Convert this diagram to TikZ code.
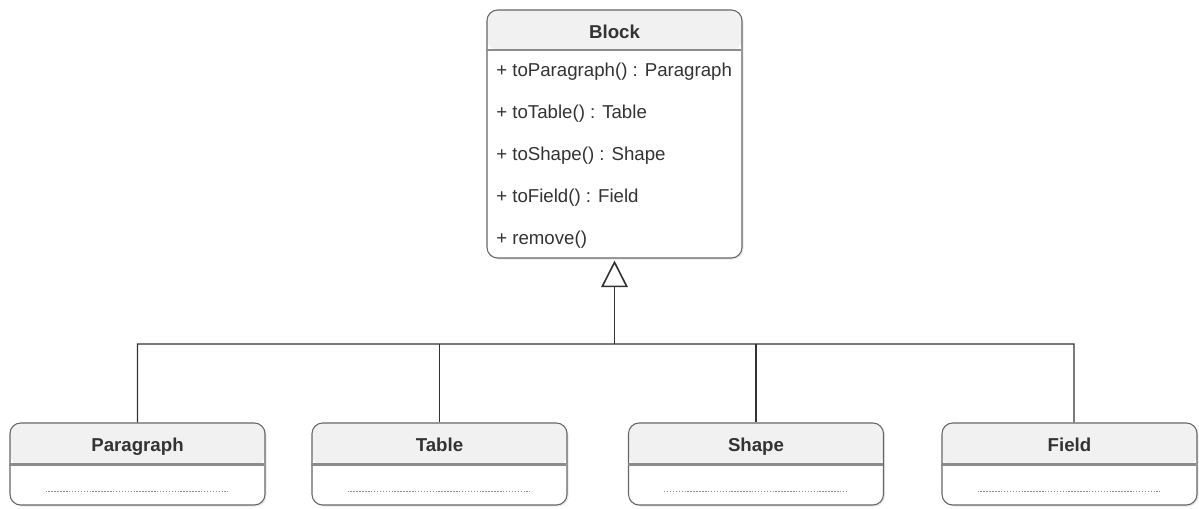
\documentclass[tikz,border=0pt]{standalone}
\usepackage{fontspec}
\setmainfont{Liberation Sans}
\usetikzlibrary{positioning, arrows.meta, shadows}

\definecolor{hdrgray}{HTML}{F1F1F1}
\definecolor{linegray}{HTML}{666666}
\definecolor{txtgray}{HTML}{333333}

\begin{document}
\begin{tikzpicture}
[
    x=0.75pt, y=-0.75pt, font=\fontsize{14}{17}\selectfont, text=txtgray,
    % Class boxes are named after the class: block, para, table, shape, field
    % One unit is one pixel of the reference, y grows downwards
]

\useasboundingbox (0,0) rectangle (1199,509);

%=================================== Start ===================================
\tikzstyle{cls}  = [
    draw=linegray, line width=0.8pt, fill=white, rounded corners=8pt,
    minimum width=191.25pt, inner sep=0pt,
    drop shadow={shadow xshift=1.2pt, shadow yshift=-1.2pt, fill=black!18},
    path picture={
        \fill[hdrgray] (path picture bounding box.north west)
            rectangle ([yshift=-#1]path picture bounding box.north east);
    }
]
\tikzstyle{hdrsep}  = [draw=black!45, line width=1.6pt]
\tikzstyle{clsname} = [anchor=base, inner sep=0pt, font=\fontsize{14}{17}\selectfont\bfseries]
\tikzstyle{meth}    = [anchor=base west, inner sep=0pt]
\tikzstyle{dots}    = [draw=black!45, line width=0.5pt, dash pattern=on 1.1pt off 1.1pt]
\tikzstyle{wire}    = [draw=txtgray, line width=0.9pt]

% Parent class
\node[cls=30pt, minimum height=186pt] (block) at (614.5,134) {};
\node[clsname] (block-name) at ([yshift=-21.75pt]block.north) {Block};
\draw[hdrsep] (block.north west) ++(0,40.5) -- ++(255,0);
\foreach \y / \txt in {77/{+ toParagraph() : Paragraph},
                       119/{+ toTable() : Table},
                       161/{+ toShape() : Shape},
                       203/{+ toField() : Field},
                       245/{+ remove()}}
    \node[meth] (block-\y) at (496,\y) {\txt};

% Sub classes
\foreach \x / \n / \txt in {137.5/para/Paragraph, 439.5/table/Table,
                            756/shape/Shape, 1069.5/field/Field}
{
    \node[cls=31.5pt, minimum height=61.5pt] (\n) at (\x,464) {};
    \node[clsname] (\n-name) at ([yshift=-21.75pt]\n.north) {\txt};
    \draw[hdrsep] (\n.north west) ++(0,42) -- ++(255,0);
    \draw[dots] ([xshift=-69pt, yshift=-51.5pt]\n.north)
             -- ([xshift=68pt, yshift=-51.5pt]\n.north);
}

% Generalization: sub classes meet on one bus, then go up to Block
\coordinate (bus) at (614.5,344);
\coordinate (bus-field) at (1074,344);
\draw[wire] (para.north) |- (bus-field) -- ([xshift=3.4pt]field.north);
\foreach \n in {table, shape}
    \draw[wire] (\n.north) -- (\n.north |- bus);
\draw[wire, -{Triangle[open, width=20pt, length=20pt, line width=1.2pt]}]
    (bus) -- ([yshift=-1.5pt]block.south);
%==================================== END ====================================

\end{tikzpicture}
\end{document}
